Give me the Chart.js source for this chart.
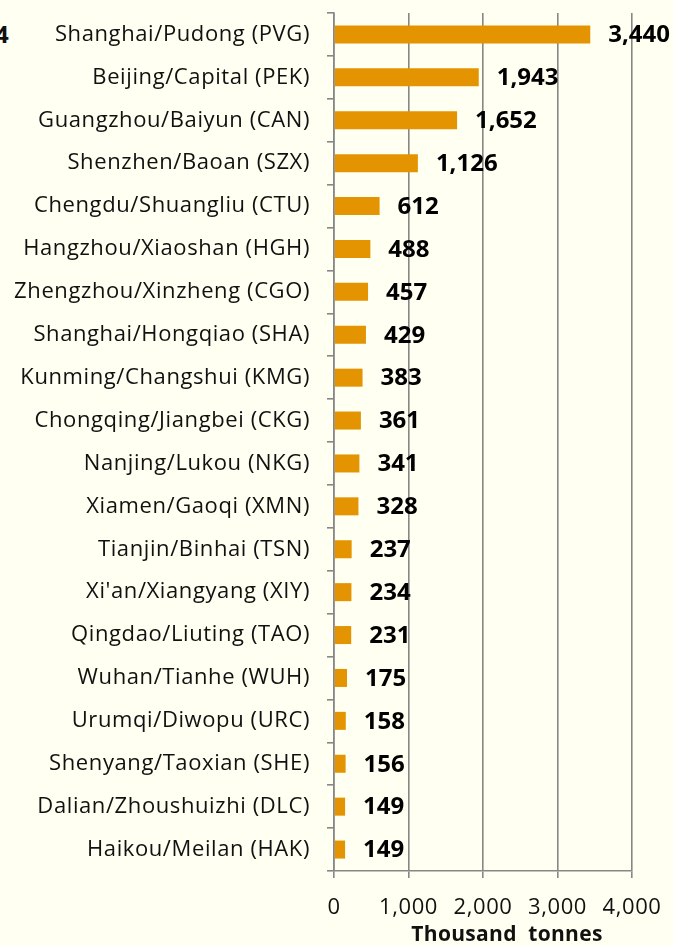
<!DOCTYPE html>
<html>
<head>
<meta charset="utf-8">
<script src="https://cdn.jsdelivr.net/npm/chart.js@4"></script>
<style>
  html, body { margin: 0; padding: 0; background: #FFFFF2; }
  #wrap { position: relative; width: 673px; height: 946px; overflow: hidden; background: #FFFFF2; }
  #cut { position: absolute; left: -5px; top: 17px; font: bold 24px "Open Sans", sans-serif; color: #111; }
  canvas { position: absolute; left: 0; top: 0; }
</style>
</head>
<body>
<div id="wrap">
  <div id="cut">4</div>
  <canvas id="c" width="673" height="946"></canvas>
</div>
<script>
const airports = [
  "Shanghai/Pudong (PVG)", "Beijing/Capital (PEK)", "Guangzhou/Baiyun (CAN)", "Shenzhen/Baoan (SZX)",
  "Chengdu/Shuangliu (CTU)", "Hangzhou/Xiaoshan (HGH)", "Zhengzhou/Xinzheng (CGO)", "Shanghai/Hongqiao (SHA)",
  "Kunming/Changshui (KMG)", "Chongqing/Jiangbei (CKG)", "Nanjing/Lukou (NKG)", "Xiamen/Gaoqi (XMN)",
  "Tianjin/Binhai (TSN)", "Xi'an/Xiangyang (XIY)", "Qingdao/Liuting (TAO)", "Wuhan/Tianhe (WUH)",
  "Urumqi/Diwopu (URC)", "Shenyang/Taoxian (SHE)", "Dalian/Zhoushuizhi (DLC)", "Haikou/Meilan (HAK)"
];
const cargoTonnes = [3440, 1943, 1652, 1126, 612, 488, 457, 429, 383, 361, 341, 328, 237, 234, 231, 175, 158, 156, 149, 149];
const xTickValues = [0, 1000, 2000, 3000, 4000];
const xTickLabels = ["0", "1,000", "2,000", "3,000", "4,000"];
const axisTitle = "Thousand  tonnes";

const FONT = '"Open Sans", sans-serif';
const GRID = '#878787';

const spacing = {
  id: 'spacing',
  beforeDraw(chart) { chart.ctx.letterSpacing = '0.6px'; }
};

const valueLabels = {
  id: 'valueLabels',
  afterDatasetsDraw(chart) {
    const ctx = chart.ctx;
    const meta = chart.getDatasetMeta(0);
    ctx.save();
    ctx.letterSpacing = '0px';
    ctx.font = 'bold 24px ' + FONT;
    ctx.fillStyle = '#000';
    ctx.textAlign = 'left';
    ctx.textBaseline = 'middle';
    meta.data.forEach((bar, i) => {
      const v = chart.data.datasets[0].data[i];
      ctx.fillText(v.toLocaleString('en-US'), bar.x + 18, bar.y + 1);
    });
    ctx.restore();
  },
  afterDraw(chart) {
    const ctx = chart.ctx;
    const s = chart.scales.x;
    ctx.save();
    ctx.letterSpacing = '0.3px';
    ctx.font = 'bold 21px ' + FONT;
    ctx.fillStyle = '#111';
    ctx.textAlign = 'center';
    ctx.textBaseline = 'middle';
    ctx.fillText(axisTitle, (s.left + s.right) / 2 + 24, s.bottom - 11);
    ctx.restore();
  }
};

new Chart(document.getElementById('c'), {
  type: 'bar',
  data: {
    labels: airports,
    datasets: [{
      data: cargoTonnes,
      backgroundColor: '#E39400',
      borderWidth: 0,
      categoryPercentage: 1.0,
      barPercentage: 0.42
    }]
  },
  options: {
    indexAxis: 'y',
    responsive: false,
    animation: false,
    devicePixelRatio: 1,
    layout: { padding: { top: 13, right: 41, left: 0, bottom: 0 } },
    plugins: { legend: { display: false }, tooltip: { enabled: false } },
    scales: {
      x: {
        min: 0, max: 4000,
        afterFit(s) { s.height = 75; s.paddingLeft = 0; s.paddingRight = 0; },
        afterBuildTicks(s) { s.ticks = xTickValues.map(v => ({ value: v })); },
        ticks: {
          callback: (v) => xTickLabels[xTickValues.indexOf(v)],
          font: { family: FONT, size: 22 },
          color: '#111',
          padding: 17,
          maxRotation: 0
        },
        grid: { color: GRID, lineWidth: 1.6, tickLength: 7 },
        border: { color: GRID, width: 1.6 }
      },
      y: {
        afterFit(s) { s.width = 334; s.paddingTop = 0; s.paddingBottom = 0; },
        ticks: {
          font: { family: FONT, size: 22 },
          color: '#111',
          padding: 17,
          autoSkip: false
        },
        grid: { drawOnChartArea: false, color: GRID, lineWidth: 1.6, tickLength: 7, offset: true },
        border: { color: GRID, width: 1.6 }
      }
    }
  },
  plugins: [spacing, valueLabels]
});
</script>
</body>
</html>
